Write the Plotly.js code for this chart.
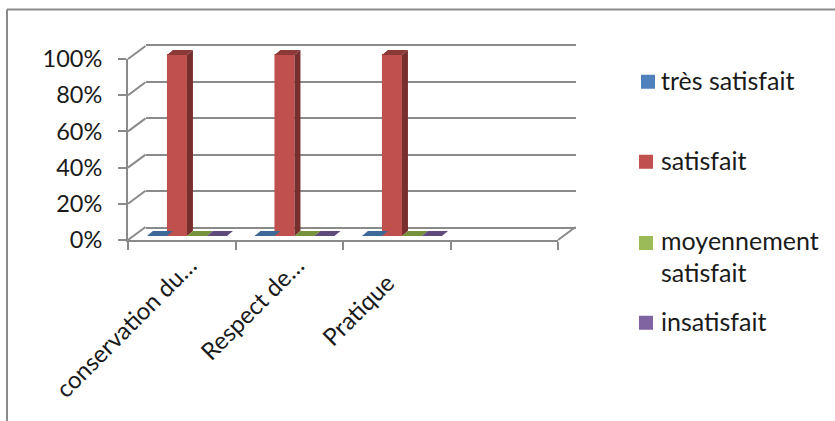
<!DOCTYPE html>
<html>
<head>
<meta charset="utf-8">
<script src="https://cdn.plot.ly/plotly-3.0.1.min.js"></script>
<style>
html,body{margin:0;padding:0;background:#fff;overflow:hidden}
#chart{width:835px;height:421px}
/* Legend swatches sit close to their labels, and beside the first line of a wrapped entry */
#chart .legend .legendpoints{transform:translate(7px,2px)}
#chart .legend2 .legendpoints{transform:translate(5px,2px)}
#chart .legend3 .legendpoints{transform:translate(5px,-13px)}
#chart .legend4 .legendpoints{transform:translate(5px,2px)}
</style>
</head>
<body>
<div id="chart"></div>
<script>
// Survey results, percentage of answers per criterion
const categories = ["conservation du…", "Respect de…", "Pratique\u00a0\u00a0\u00a0\u00a0", " "];
const tresSatisfait = [0, 0, 0, null];
const satisfait = [100, 100, 100, null];
const moyennement = [0, 0, 0, null];
const insatisfait = [0, 0, 0, null];
const yTicks = [0, 20, 40, 60, 80, 100];

const seriesNames = ["très satisfait", "satisfait", "moyennement<br>satisfait", "insatisfait"];
const seriesValues = [tresSatisfait, satisfait, moyennement, insatisfait];
const frontColors = ["#4f81bd", "#c0504d", "#9bbb59", "#8064a2"];
const topColors = ["#3e6895", "#8c3a38", "#76923c", "#5f4a7c"];
const sideColors = ["#2f4e70", "#772f2d", "#5c7230", "#4a3a60"];
const legendIds = ["legend", "legend2", "legend3", "legend4"];
const legendTops = [57, 137, 217, 298];
const legendLefts = [621, 621, 621, 621];

const W = 835, H = 421;
const GRAY = "#8a8a8a";
const FONT = "Lato, 'Open Sans', sans-serif";

// Frame geometry of the pseudo-3D box, in pixels
const front = {left: 128, right: 558, bottom: 240, top: 59};
const wallShift = {dx: 17.5, dy: 13};
const barShift = {dx: 5.2, dy: 4};
const barDepth = {dx: 6, dy: 5};
const groupGap = 0.256;
const barHeadroom = 8;

const xDomain = s => [(front.left + s) / W, (front.right + s) / W];
const yDomain = (s, extra = 0) => [1 - (front.bottom - s) / H, 1 - (front.top - s - extra) / H];

const xUnit = (front.right - front.left) / categories.length;
const yUnit = (front.bottom - front.top) / 100;
const barWidth = (1 - groupGap) / seriesValues.length;

const traces = [];

// Empty trace that carries the category axis in front of the box
traces.push({
  type: "scatter", x: categories, y: categories.map(() => null),
  xaxis: "x", yaxis: "y", showlegend: false, hoverinfo: "skip", mode: "lines"
});
// Empty trace for the back wall and its gridlines
traces.push({
  type: "scatter", x: [0], y: [null],
  xaxis: "x2", yaxis: "y2", showlegend: false, hoverinfo: "skip", mode: "lines"
});

// Front faces of the bars
seriesValues.forEach((vals, s) => {
  traces.push({
    type: "bar", name: seriesNames[s], x: categories.map((_, i) => i), y: vals,
    xaxis: "x3", yaxis: "y3", legend: legendIds[s],
    marker: {color: frontColors[s], line: {color: frontColors[s], width: 2}},
    hovertemplate: "%{y}%<extra></extra>"
  });
});

// Top and side faces of the bars, derived from the same values
const depthX = barDepth.dx / xUnit, depthY = barDepth.dy / yUnit;
seriesValues.forEach((vals, s) => {
  vals.forEach((v, i) => {
    if (v === null) return;
    const x0 = i - (1 - groupGap) / 2 + s * barWidth;
    const x1 = x0 + barWidth;
    traces.push({
      type: "scatter", mode: "lines", fill: "toself", fillcolor: topColors[s],
      line: {width: 0}, showlegend: false, hoverinfo: "skip", xaxis: "x3", yaxis: "y3",
      x: [x0, x1, x1 + depthX, x0 + depthX, x0],
      y: [v, v, v + depthY, v + depthY, v]
    });
    if (v > 0) {
      traces.push({
        type: "scatter", mode: "lines", fill: "toself", fillcolor: sideColors[s],
        line: {width: 0}, showlegend: false, hoverinfo: "skip", xaxis: "x3", yaxis: "y3",
        x: [x1, x1 + depthX, x1 + depthX, x1, x1],
        y: [0, depthY, v + depthY, v, 0]
      });
    }
  });
});

// Receding edges of the box and the page frame
const line = (x0, y0, x1, y1) => ({
  type: "line", xref: "paper", yref: "paper", layer: "below",
  x0: x0 / W, y0: 1 - y0 / H, x1: x1 / W, y1: 1 - y1 / H,
  line: {color: GRAY, width: 2}
});
const shapes = yTicks.map(t => {
  const py = front.bottom - t * yUnit;
  return line(front.left, py, front.left + wallShift.dx, py - wallShift.dy);
});
shapes.push(line(front.right, front.bottom, front.right + wallShift.dx, front.bottom - wallShift.dy));
shapes.push(line(7, 9.5, W, 9.5));
shapes.push(line(7, 9.5, 7, H));

const legendBox = s => ({
  x: legendLefts[s] / W, y: 1 - legendTops[s] / H, xanchor: "left", yanchor: "top",
  bgcolor: "rgba(0,0,0,0)", borderwidth: 0, itemclick: false, itemdoubleclick: false,
  font: {family: FONT, size: 25, color: "#1a1a1a"}, itemwidth: 30
});

const layout = {
  width: W, height: H,
  margin: {l: 0, r: 0, t: 0, b: 0},
  paper_bgcolor: "#fff", plot_bgcolor: "rgba(0,0,0,0)",
  barmode: "group", bargap: groupGap, bargroupgap: 0.1,
  font: {family: FONT, size: 24, color: "#1a1a1a"},
  shapes,
  legend: legendBox(0),
  legend2: legendBox(1),
  legend3: legendBox(2),
  legend4: legendBox(3),
  xaxis: {
    domain: xDomain(0), type: "category", categoryorder: "array", categoryarray: categories,
    range: [-0.5, categories.length - 0.5], anchor: "y",
    tickson: "boundaries", ticks: "outside", ticklen: 8, tickwidth: 2, tickcolor: GRAY,
    ticklabelstandoff: 0, ticklabelshift: 8,
    showline: true, linecolor: GRAY, linewidth: 2, showgrid: false, zeroline: false,
    tickangle: -45, tickfont: {family: FONT, size: 24, color: "#1a1a1a"},
    automargin: false, fixedrange: true
  },
  yaxis: {
    domain: yDomain(0), range: [0, 100], anchor: "x",
    tickmode: "array", tickvals: yTicks, ticktext: yTicks.map(t => t + "%"),
    ticks: "outside", ticklen: 8, tickwidth: 2, tickcolor: GRAY, ticklabelstandoff: 11,
    showline: true, linecolor: GRAY, linewidth: 2, showgrid: false, zeroline: false,
    tickfont: {family: FONT, size: 23.5, color: "#1a1a1a"},
    automargin: false, fixedrange: true
  },
  // Back wall: its axis lines close the top and bottom of the grid
  xaxis2: {
    domain: xDomain(wallShift.dx), range: [-0.5, categories.length - 0.5], anchor: "y2",
    showline: true, mirror: true, linecolor: GRAY, linewidth: 2,
    showticklabels: false, ticks: "", showgrid: false, zeroline: false, fixedrange: true
  },
  yaxis2: {
    domain: yDomain(wallShift.dy), range: [0, 100], anchor: "x2",
    tickmode: "array", tickvals: yTicks, showticklabels: false, ticks: "",
    showgrid: true, gridcolor: GRAY, gridwidth: 2, zeroline: false, showline: false,
    fixedrange: true
  },
  // Bars: same scale as the box, with headroom above 100% for the top faces
  xaxis3: {
    domain: xDomain(barShift.dx), range: [-0.5, categories.length - 0.5],
    anchor: "y3", visible: false, fixedrange: true
  },
  yaxis3: {
    domain: yDomain(barShift.dy, barHeadroom), range: [0, 100 + barHeadroom / yUnit],
    anchor: "x3", visible: false, fixedrange: true
  }
};

Plotly.newPlot("chart", traces, layout, {displayModeBar: false, responsive: false});
</script>
</body>
</html>
